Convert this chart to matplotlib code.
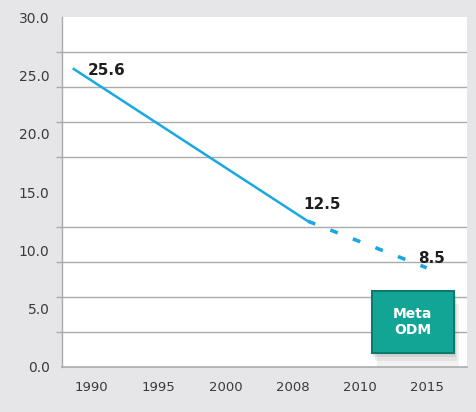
import matplotlib
matplotlib.use("Agg")
import matplotlib.pyplot as plt
from matplotlib.patches import Rectangle

# tick categories on the x axis
years = ["1990", "1995", "2000", "2008", "2010", "2015"]
# line points: position along the category axis and value
line_pos = [-0.28, 3.22, 4.99]
line_vals = [25.6, 12.5, 8.5]
labels = ["25.6", "12.5", "8.5"]
y_ticks = [0, 5, 10, 15, 20, 25, 30]
grid_vals = [0, 3, 6, 9, 12, 15, 18, 21, 24, 27, 30]

bg = "#e6e6e8"
blue = "#19a8e2"
grid_c = "#ababab"

fig = plt.figure(figsize=(4.76, 4.12), dpi=100, facecolor=bg)
ax = fig.add_axes([62 / 476, 1 - 367 / 412, 405 / 476, 350 / 412])
ax.set_facecolor("white")

ax.set_xlim(-0.44, 5.59)
ax.set_ylim(0, 30)

# gridlines (every 3 units) and short ticks on the left
ax.set_yticks(grid_vals, minor=True)
ax.set_yticks(y_ticks)
ax.set_yticklabels(["%.1f" % v for v in y_ticks], fontsize=10, color="#3a3a3a")
ax.tick_params(axis="y", which="major", length=0, pad=9)
ax.tick_params(axis="y", which="minor", length=4, color=grid_c, width=1.0)
ax.grid(axis="y", which="minor", color=grid_c, linewidth=1.0)
ax.grid(axis="y", which="major", visible=False)
ax.set_axisbelow(True)

ax.set_xticks(range(len(years)))
ax.set_xticklabels(years, fontsize=9.5, color="#3a3a3a")
ax.tick_params(axis="x", length=0, pad=10)

for s in ["top", "right"]:
    ax.spines[s].set_visible(False)
ax.spines["left"].set_color(grid_c)
ax.spines["left"].set_linewidth(1.0)
ax.spines["bottom"].set_color(grid_c)
ax.spines["bottom"].set_linewidth(1.2)

# solid part up to 2008, dashed projection to 2015
ax.plot(line_pos[:2], line_vals[:2], color=blue, lw=1.8, solid_capstyle="butt")
ax.plot(line_pos[1:], line_vals[1:], color=blue, lw=2.6, dashes=(2.2, 4.5))

label_pos = [(-0.05, 25.4), (3.15, 13.9), (4.86, 9.26)]
for (lx, ly), t in zip(label_pos, labels):
    ax.text(lx, ly, t, fontsize=11, fontweight="bold", color="#1e1e1e",
            ha="left", va="center")

# "Meta ODM" box with a soft shadow
for i, a in enumerate([0.05, 0.06, 0.08]):
    ax.add_patch(Rectangle((0.765 + 0.004 * (3 - i), 0.04 - 0.012 * (3 - i)), 0.203, 0.177,
                           transform=ax.transAxes, facecolor="black", alpha=a,
                           edgecolor="none", clip_on=False))
ax.add_patch(Rectangle((0.765, 0.04), 0.203, 0.177, transform=ax.transAxes,
                       facecolor="#12a596", edgecolor="#0d7a6e", lw=1.5, clip_on=False))
ax.text(0.8665, 0.1285, "Meta\nODM", transform=ax.transAxes, ha="center", va="center",
        color="white", fontsize=10, fontweight="bold", linespacing=1.25)

fig.savefig("out.png", dpi=100, facecolor=bg)
